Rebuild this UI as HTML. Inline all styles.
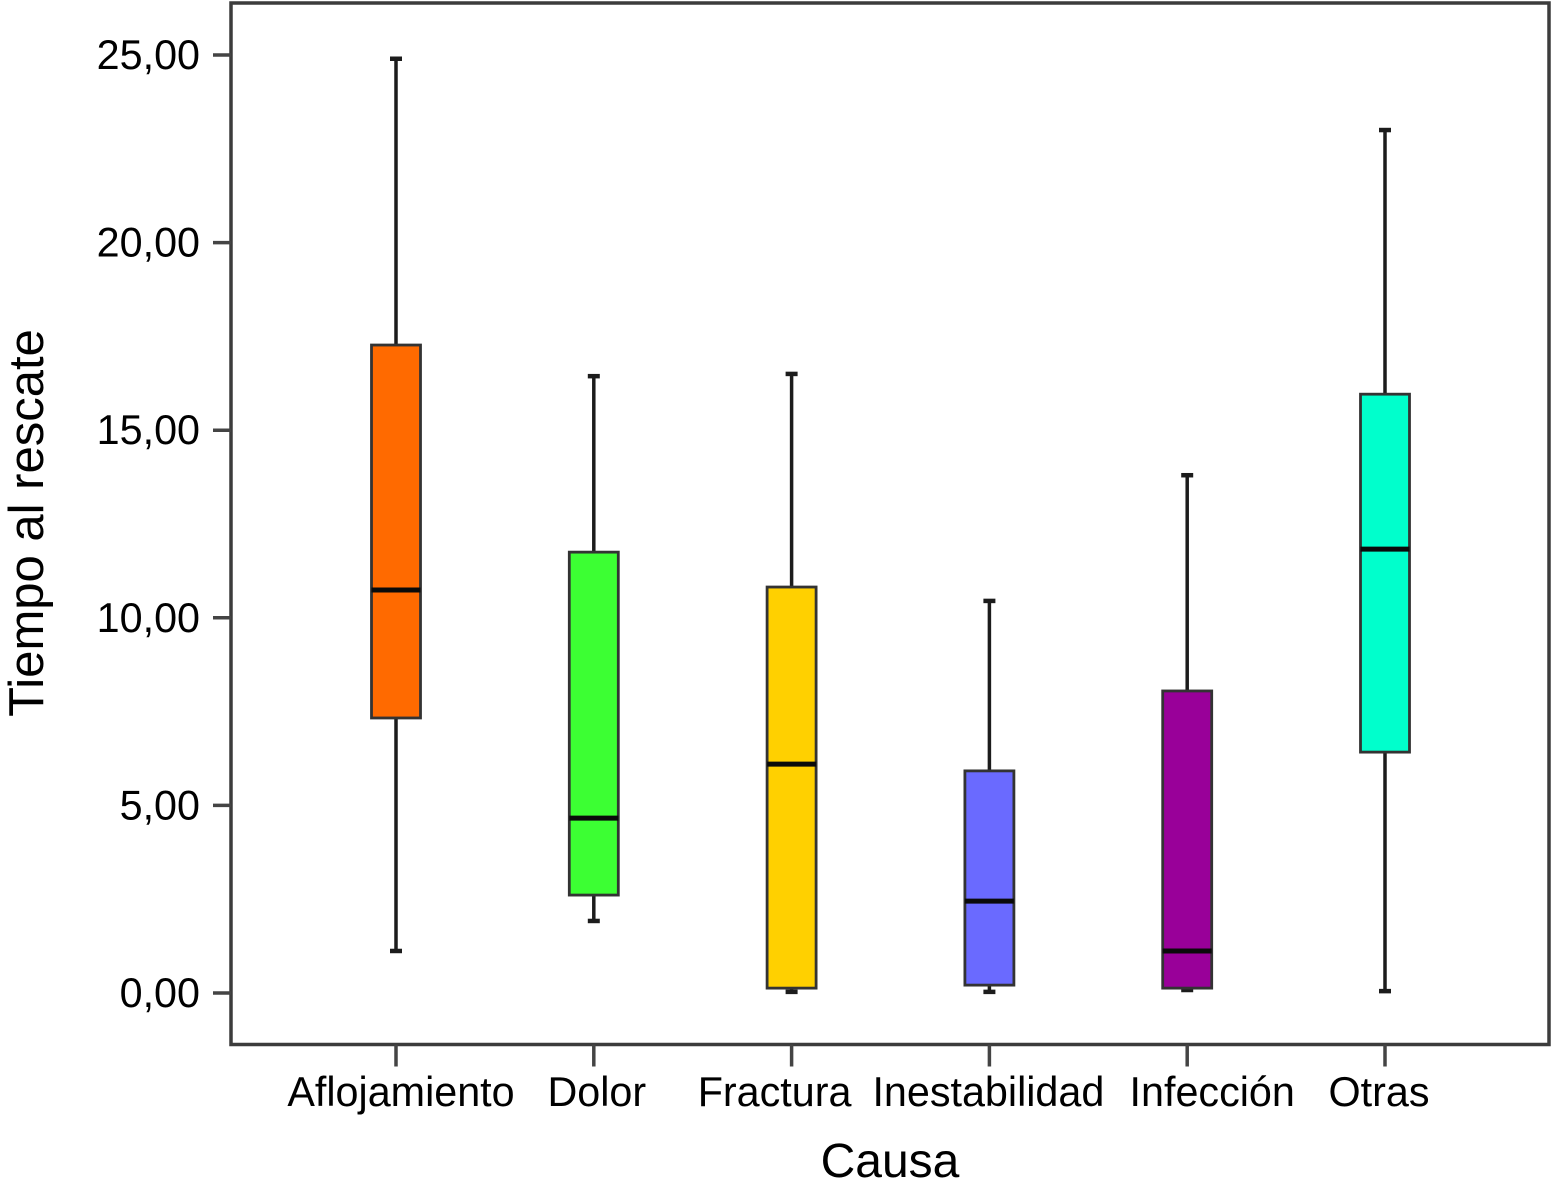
<!DOCTYPE html>
<html lang="es">
<head>
<meta charset="utf-8">
<title>Tiempo al rescate por causa</title>
<style>
html,body{margin:0;padding:0;background:#fff;width:1551px;height:1188px;overflow:hidden}
svg{display:block;font-family:"Liberation Sans",sans-serif}
</style>
</head>
<body>
<svg id="chart" width="1551" height="1188" viewBox="0 0 1551 1188" xmlns="http://www.w3.org/2000/svg"></svg>
<script>
const categories = ['Aflojamiento','Dolor','Fractura','Inestabilidad','Infección','Otras'];
const whiskerHigh = [24.9,16.44,16.5,10.45,13.8,23.0];
const q3Values = [17.27,11.75,10.82,5.92,8.05,15.96];
const medians = [10.74,4.66,6.1,2.45,1.12,11.83];
const q1Values = [7.33,2.61,0.13,0.21,0.13,6.42];
const whiskerLow = [1.12,1.92,0.03,0.03,0.08,0.05];
const yTicks = [0,5,10,15,20,25];
const yTickLabels = ['0,00','5,00','10,00','15,00','20,00','25,00'];
const boxColors = ['#ff6a00','#3cff33','#ffd000','#6a6aff','#990099','#00ffcc'];
const labelShift = [5,3,-17,-1,25,-6];

const svg = document.getElementById('chart');
const NS = 'http://www.w3.org/2000/svg';
const frame = {left:231, right:1549, top:3, bottom:1044.5};
const yScale = v => 993 - v * 37.52;
const xScale = i => 396 + i * 197.8;
const BOX_W = 49, CAP_W = 12;

function make(tag, attrs, text){
  const el = document.createElementNS(NS, tag);
  for (const k in attrs) el.setAttribute(k, attrs[k]);
  if (text !== undefined) el.textContent = text;
  svg.appendChild(el);
  return el;
}
function line(x1,y1,x2,y2,stroke,w){
  return make('line',{x1,y1,x2,y2,stroke,'stroke-width':w});
}

const frameRect = make('rect',{x:frame.left,y:frame.top,width:frame.right-frame.left,height:frame.bottom-frame.top,fill:'#fff',stroke:'#3c3c3c','stroke-width':3.5});



yTicks.forEach((t,i) => {
  const y = yScale(t);
  const tick = line(frame.left-18,y,frame.left,y,'#444',3.5);
  
  
  const lab = make('text',{x:200,y:y+14,'text-anchor':'end','font-size':41.3,fill:'#000'},yTickLabels[i]);
  
  
});

categories.forEach((c,i) => {
  const x = xScale(i);
  const tick = line(x,frame.bottom,x,frame.bottom+22,'#444',3.5);
  
  
  const lab = make('text',{x:x+labelShift[i],y:1106,'text-anchor':'middle','font-size':41.3,fill:'#000'},c);
  
  

  const whisker = line(x,yScale(whiskerHigh[i]),x,yScale(whiskerLow[i]),'#1c1c1c',3.5);
  
  
  const capHigh = line(x-CAP_W/2,yScale(whiskerHigh[i]),x+CAP_W/2,yScale(whiskerHigh[i]),'#1c1c1c',4.5);
  
  
  const capLow = line(x-CAP_W/2,yScale(whiskerLow[i]),x+CAP_W/2,yScale(whiskerLow[i]),'#1c1c1c',4.5);
  
  

  const box = make('rect',{x:x-BOX_W/2,y:yScale(q3Values[i]),width:BOX_W,height:yScale(q1Values[i])-yScale(q3Values[i]),fill:boxColors[i],stroke:'#333','stroke-width':2.8});
  
  
  const med = line(x-BOX_W/2,yScale(medians[i]),x+BOX_W/2,yScale(medians[i]),'#0a0a0a',5);
  
  
});

const xTitle = make('text',{x:890,y:1177,'text-anchor':'middle','font-size':48,fill:'#000'},'Causa');


const yTitle = make('text',{x:0,y:0,transform:'translate(43,523) rotate(-90)','text-anchor':'middle','font-size':49,fill:'#000'},'Tiempo al rescate');


</script>
</body>
</html>
